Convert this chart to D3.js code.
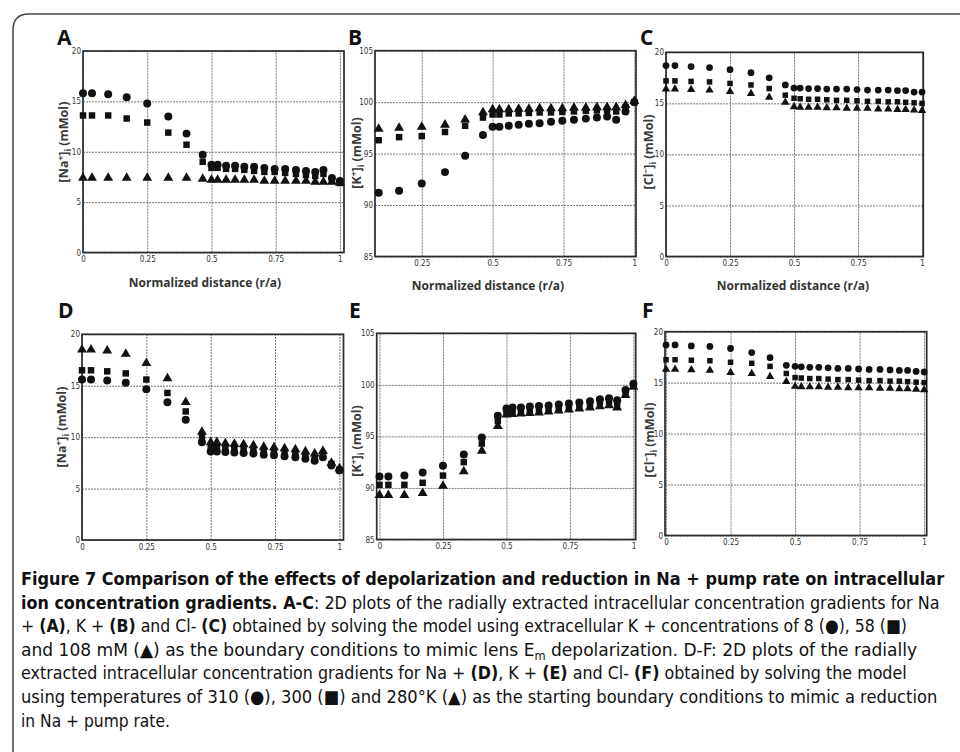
<!DOCTYPE html>
<html><head><meta charset="utf-8">
<script src="https://cdn.jsdelivr.net/npm/d3@7"></script>
<style>body{margin:0;background:#fff} svg{display:block}</style>
</head><body>
<svg id="fig" width="960" height="752"></svg>
<script>
// ---- data ----
const X = [0, 0.035, 0.098, 0.17, 0.25, 0.332, 0.403, 0.466, 0.5, 0.524, 0.557, 0.592, 0.628, 0.666, 0.706, 0.746, 0.787, 0.829, 0.868, 0.904, 0.936, 0.969, 1.0];

// A: [Na+]i, extracellular K+ 8 / 58 / 108 mM
const naA_8   = [15.8, 15.8, 15.7, 15.4, 14.8, 13.5, 11.8, 9.7, 8.7, 8.7, 8.6, 8.6, 8.5, 8.5, 8.4, 8.3, 8.3, 8.2, 8.1, 8.0, 8.2, 7.4, 7.1];
const naA_58  = [13.6, 13.6, 13.6, 13.3, 12.9, 11.9, 10.7, 9.0, 8.4, 8.4, 8.3, 8.3, 8.2, 8.1, 8.0, 8.0, 7.9, 7.8, 7.7, 7.6, 7.8, 7.1, 6.9];
const naA_108 = [7.4, 7.4, 7.4, 7.4, 7.4, 7.4, 7.4, 7.3, 7.2, 7.2, 7.2, 7.2, 7.2, 7.2, 7.1, 7.1, 7.1, 7.1, 7.1, 7.0, 7.0, 7.0, 6.9];
// B: [K+]i
const kB_8   = [91.1, 91.1, 91.2, 91.4, 92.1, 93.2, 94.8, 96.8, 97.6, 97.6, 97.7, 97.8, 97.9, 97.95, 98.1, 98.2, 98.3, 98.4, 98.5, 98.6, 98.3, 99.1, 100.0];
const kB_58  = [96.2, 96.2, 96.3, 96.6, 96.7, 97.1, 97.7, 98.5, 98.8, 98.8, 98.9, 98.9, 98.95, 99.0, 99.0, 99.05, 99.1, 99.15, 99.2, 99.25, 99.1, 99.5, 100.0];
const kB_108 = [97.4, 97.4, 97.4, 97.5, 97.6, 97.8, 98.3, 99.0, 99.3, 99.3, 99.3, 99.35, 99.35, 99.4, 99.4, 99.4, 99.45, 99.45, 99.5, 99.5, 99.5, 99.7, 100.1];
// C: [Cl-]i
const clC_8   = [18.7, 18.7, 18.6, 18.5, 18.3, 18.0, 17.5, 16.8, 16.5, 16.5, 16.45, 16.45, 16.4, 16.4, 16.4, 16.35, 16.3, 16.3, 16.3, 16.25, 16.25, 16.1, 16.1];
const clC_58  = [17.2, 17.2, 17.15, 17.1, 16.95, 16.8, 16.45, 15.8, 15.5, 15.45, 15.4, 15.4, 15.35, 15.3, 15.3, 15.25, 15.2, 15.2, 15.15, 15.15, 15.1, 15.05, 15.0];
const clC_108 = [16.4, 16.4, 16.35, 16.3, 16.15, 15.95, 15.6, 15.1, 14.65, 14.6, 14.6, 14.6, 14.55, 14.55, 14.5, 14.5, 14.5, 14.45, 14.45, 14.4, 14.4, 14.35, 14.3];
// D: [Na+]i, temperature 310 / 300 / 280 K
const naD_310 = [15.6, 15.6, 15.5, 15.3, 14.65, 13.4, 11.7, 9.5, 8.6, 8.6, 8.55, 8.5, 8.45, 8.4, 8.3, 8.25, 8.15, 8.05, 7.9, 7.7, 8.05, 7.25, 6.75];
const naD_300 = [16.5, 16.5, 16.4, 16.2, 15.6, 14.3, 12.5, 10.0, 9.05, 9.05, 9.0, 8.9, 8.85, 8.8, 8.7, 8.6, 8.5, 8.4, 8.25, 8.05, 8.35, 7.4, 6.85];
const naD_280 = [18.5, 18.5, 18.4, 18.1, 17.2, 15.7, 13.4, 10.5, 9.5, 9.5, 9.4, 9.35, 9.3, 9.2, 9.05, 9.0, 8.9, 8.8, 8.6, 8.4, 8.65, 7.5, 6.95];
// E: [K+]i
const kE_310 = [91.1, 91.1, 91.2, 91.5, 92.15, 93.25, 94.9, 97.0, 97.7, 97.8, 97.8, 97.9, 97.95, 98.0, 98.1, 98.2, 98.3, 98.4, 98.6, 98.7, 98.5, 99.5, 100.1];
const kE_300 = [90.3, 90.3, 90.3, 90.5, 91.2, 92.5, 94.3, 96.5, 97.4, 97.45, 97.5, 97.55, 97.6, 97.7, 97.8, 97.9, 98.0, 98.1, 98.3, 98.4, 98.2, 99.25, 99.95];
const kE_280 = [89.3, 89.3, 89.3, 89.5, 90.2, 91.6, 93.6, 96.0, 97.1, 97.15, 97.2, 97.25, 97.3, 97.4, 97.5, 97.6, 97.7, 97.8, 97.9, 98.0, 97.8, 99.0, 99.8];
// F: [Cl-]i
const clF_310 = [18.7, 18.7, 18.6, 18.55, 18.35, 17.95, 17.45, 16.7, 16.6, 16.55, 16.5, 16.5, 16.45, 16.4, 16.4, 16.35, 16.3, 16.3, 16.25, 16.2, 16.2, 16.1, 16.05];
const clF_300 = [17.25, 17.25, 17.2, 17.15, 17.0, 16.9, 16.6, 15.9, 15.5, 15.45, 15.4, 15.4, 15.35, 15.3, 15.3, 15.25, 15.2, 15.2, 15.15, 15.15, 15.1, 15.05, 15.0];
const clF_280 = [16.3, 16.3, 16.25, 16.2, 16.0, 15.9, 15.6, 15.1, 14.65, 14.6, 14.6, 14.6, 14.55, 14.55, 14.5, 14.5, 14.5, 14.45, 14.45, 14.4, 14.4, 14.35, 14.3];

const xTicksFull = [0, 0.25, 0.5, 0.75, 1];
const xTicksB = [0.25, 0.5, 0.75, 1];
const yTicksConc = [0, 5, 10, 15, 20];
const yTicksK = [85, 90, 95, 100, 105];
const xLabelText = "Normalized distance (r/a)";

const captionLines = [
  [["Figure 7 Comparison of the effects of depolarization and reduction in Na + pump rate on intracellular", 1]],
  [["ion concentration gradients. A-C", 1], [": 2D plots of the radially extracted intracellular concentration gradients for Na", 0]],
  [["+ ", 0], ["(A)", 1], [", K + ", 0], ["(B)", 1], [" and Cl- ", 0], ["(C)", 1], [" obtained by solving the model using extracellular K + concentrations of 8 (\u25CF), 58 (\u25A0)", 0]],
  [["and 108 mM (\u25B2) as the boundary conditions to mimic lens E", 0], ["m", 2], [" depolarization. D-F: 2D plots of the radially", 0]],
  [["extracted intracellular concentration gradients for Na + ", 0], ["(D)", 1], [", K + ", 0], ["(E)", 1], [" and Cl- ", 0], ["(F)", 1], [" obtained by solving the model", 0]],
  [["using temperatures of 310 (\u25CF), 300 (\u25A0) and 280\u00B0K (\u25B2) as the starting boundary conditions to mimic a reduction", 0]],
  [["in Na + pump rate.", 0]]
];

// ---- layout ----
const panels = [
  {letter:"A", ion:"Na", ch:"+", series:[[naA_8,"circle"],[naA_58,"square"],[naA_108,"triangle"]],
   xD:[0,1.016], xR:[83,344], yD:[0,20], yR:[252.5,51], xt:xTicksFull, yt:yTicksConc,
   lp:[57,45], ylp:[64,142], xlp:[205,287], ms:1},
  {letter:"B", ion:"K", ch:"+", series:[[kB_8,"circle"],[kB_58,"square"],[kB_108,"triangle"]],
   xD:[0.085,1.006], xR:[375,636], yD:[85,105], yR:[256.5,50.7], xt:xTicksB, yt:yTicksK,
   lp:[348,45], ylp:[357,153], xlp:[488,290], ms:1},
  {letter:"C", ion:"Cl", ch:"\u2212", series:[[clC_8,"circle"],[clC_58,"square"],[clC_108,"triangle"]],
   xD:[0,1.005], xR:[666,923.3], yD:[0,20], yR:[256.5,52.3], xt:xTicksFull, yt:yTicksConc,
   lp:[640,45], ylp:[649,152], xlp:[793,290], ms:0.85},
  {letter:"D", ion:"Na", ch:"+", series:[[naD_310,"circle"],[naD_300,"square"],[naD_280,"triangle"]],
   xD:[0,1.016], xR:[82,343.5], yD:[0,20], yR:[540,334.3], xt:xTicksFull, yt:yTicksConc,
   lp:[58,318], ylp:[62,427], xlp:null, ms:1},
  {letter:"E", ion:"K", ch:"+", series:[[kE_310,"circle"],[kE_300,"square"],[kE_280,"triangle"]],
   xD:[-0.011,1.009], xR:[376.7,635.7], yD:[85,105], yR:[539.5,333.3], xt:xTicksFull, yt:yTicksK,
   lp:[349,318], ylp:[357,441], xlp:null, ms:1},
  {letter:"F", ion:"Cl", ch:"\u2212", series:[[clF_310,"circle"],[clF_300,"square"],[clF_280,"triangle"]],
   xD:[-0.004,1.01], xR:[665,926.7], yD:[0,20], yR:[535.5,331.7], xt:xTicksFull, yt:yTicksConc,
   lp:[642,318], ylp:[650,440], xlp:null, ms:0.85}
];

const svg = d3.select("#fig");
svg.append("rect").attr("width",960).attr("height",752).attr("fill","#fff");

// figure frame
svg.append("path").attr("d","M13,752 V30 Q13,14 29,14 H960")
  .attr("fill","none").attr("stroke","#444").attr("stroke-width",1.5);

const symType = {circle:d3.symbolCircle, square:d3.symbolSquare, triangle:d3.symbolTriangle};
const symArea = {circle:50, square:42, triangle:42};
const tickFont = "'Liberation Sans Narrow','DejaVu Sans Condensed',sans-serif";

panels.forEach(p => {
  const x = d3.scaleLinear().domain(p.xD).range(p.xR);
  const y = d3.scaleLinear().domain(p.yD).range(p.yR);
  const g = svg.append("g");
  const [x0, x1] = p.xR, [yb, yt] = p.yR;

  // grid
  const gx = g.append("g").attr("transform",`translate(0,${yb})`)
    .call(d3.axisBottom(x).tickValues(p.xt).tickSize(-(yb-yt)).tickFormat(""));
  const gy = g.append("g").attr("transform",`translate(${x0},0)`)
    .call(d3.axisLeft(y).tickValues(p.yt).tickSize(-(x1-x0)).tickFormat(""));
  [gx, gy].forEach(a => {
    a.select(".domain").remove();
    a.selectAll(".tick line").attr("stroke","#777").attr("stroke-width",1).attr("stroke-dasharray","2,1");
  });

  // tick labels
  const lx = g.append("g").attr("transform",`translate(0,${yb})`)
    .call(d3.axisBottom(x).tickValues(p.xt).tickSize(0).tickPadding(4).tickFormat(d => String(d)));
  const ly = g.append("g").attr("transform",`translate(${x0},0)`)
    .call(d3.axisLeft(y).tickValues(p.yt).tickSize(0).tickPadding(2).tickFormat(d => String(d)));
  [lx, ly].forEach(a => {
    a.select(".domain").remove();
    a.selectAll("text").attr("font-family",tickFont).attr("font-size",8).attr("fill","#333");
  });

  // box
  g.append("rect").attr("x",x0).attr("y",yt).attr("width",x1-x0).attr("height",yb-yt)
    .attr("fill","none").attr("stroke","#2a2a2a").attr("stroke-width",1.7);

  // markers
  p.series.forEach(([vals, type]) => {
    const pts = X.map((r,i) => ({r, v: vals[i]})).filter(d => d.r >= p.xD[0]-1e-9 && d.r <= p.xD[1]);
    g.append("g").selectAll("path").data(pts).join("path")
      .attr("transform", d => `translate(${x(d.r)},${y(d.v)})`)
      .attr("d", d3.symbol().type(symType[type]).size(symArea[type]*p.ms*p.ms))
      .attr("fill","#111");
  });

  // panel letter
  svg.append("text").attr("x",p.lp[0]).attr("y",p.lp[1]).text(p.letter)
    .attr("font-family","'Open Sans',sans-serif").attr("font-weight",700).attr("font-size",21).attr("fill","#111");

  // y label
  const yl = svg.append("text")
    .attr("transform",`translate(${p.ylp[0]},${p.ylp[1]}) rotate(-90)`)
    .attr("text-anchor","middle").attr("dy","0.35em")
    .attr("font-family","'Open Sans',sans-serif").attr("font-weight",700).attr("font-size",12.5).attr("fill","#3a3a3a");
  yl.append("tspan").text("[" + p.ion);
  yl.append("tspan").attr("dy",-4).attr("font-size",8.5).text(p.ch);
  yl.append("tspan").attr("dy",4).text("]");
  yl.append("tspan").attr("dy",3).attr("font-size",8.5).text("i");
  yl.append("tspan").attr("dy",-3).text(" (mMol)");

  // x label
  if (p.xlp) {
    svg.append("text").attr("x",p.xlp[0]).attr("y",p.xlp[1]).attr("text-anchor","middle")
      .attr("font-family","'Open Sans',sans-serif").attr("font-weight",700).attr("font-size",12)
      .attr("fill","#333").text(xLabelText);
  }
});

// caption
const capWidths = [924, 919, 886, 897, 886, 917, 149];
const capFont = "'Liberation Sans Narrow','DejaVu Sans Condensed','Open Sans',sans-serif";
captionLines.forEach((segs, i) => {
  const base = 585 + i * 23.6;
  const t = svg.append("text").attr("x",0).attr("y",0)
    .attr("font-family",capFont).attr("font-size",18).attr("fill","#111");
  let afterSub = false;
  segs.forEach(([s, b]) => {
    const ts = t.append("tspan").text(s);
    if (b === 1) ts.attr("font-weight",700);
    if (b === 2) { ts.attr("font-size",12).attr("dy",4); afterSub = true; }
    else if (afterSub) { ts.attr("dy",-4); afterSub = false; }
  });
  const w = t.node().getBBox().width;
  t.attr("transform",`translate(21,${base}) scale(${capWidths[i]/w},1)`);
});
</script>
</body></html>
